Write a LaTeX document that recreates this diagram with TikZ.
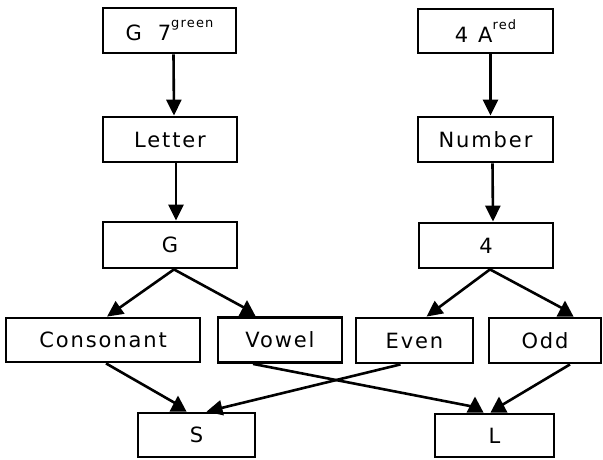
\documentclass[tikz,border=0pt]{standalone}
\usepackage{fontspec}
\setmainfont{DejaVu Sans}[LetterSpace=9]
\usetikzlibrary{arrows.meta,calc}
\begin{document}
\begin{tikzpicture}[x=1pt,y=-1pt,
  box/.style={draw, line width=2.8pt, inner sep=0pt, font=\fontsize{21}{24}\selectfont},
  conn/.style={line width=2.6pt},
  tip/.style={-{Triangle[length=16pt,width=15pt]}},
  uptri/.pic={\fill (-8.5,0) -- (8.5,0) -- (0,-16) -- cycle;}]
\useasboundingbox (0,0) rectangle (603,459);
% boxes
\node[box, minimum width=133pt, minimum height=45pt] (g7) at (169.5,30.5)
  {G\hspace{16pt}7\raisebox{.6em}{\fontsize{13}{14}\selectfont green}};
\node[box, minimum width=135pt, minimum height=44pt] (a4) at (485.5,31)
  {4\hspace{10pt}A\raisebox{.6em}{\fontsize{13}{14}\selectfont red}};
\node[box, minimum width=134pt, minimum height=45pt] (letter) at (170,139.5) {Letter};
\node[box, minimum width=135pt, minimum height=45pt] (number) at (485.5,139.5) {Number};
\node[box, minimum width=134pt, minimum height=46pt] (G) at (170,245) {G};
\node[box, minimum width=134pt, minimum height=45pt] (four) at (486,245.5) {4};
\node[box, minimum width=194pt, minimum height=44pt] (cons) at (103,340) {Consonant};
\node[box, minimum width=124pt, minimum height=45pt] (vowel) at (280,340) {Vowel};
\node[box, minimum width=117pt, minimum height=45pt] (even) at (414.5,340.5) {Even};
\node[box, minimum width=112pt, minimum height=45pt] (odd) at (545,340.5) {Odd};
\node[box, minimum width=117pt, minimum height=44pt] (S) at (196.5,435) {S};
\node[box, minimum width=119pt, minimum height=43pt] (L) at (494.5,435.5) {L};
% coordinates of the upright arrow heads
\coordinate (vt) at ([xshift=-33pt]vowel.north);
\coordinate (ot) at ([xshift=20pt]odd.north);
\coordinate (st) at ([xshift=-18.5pt]S.north);
\coordinate (lt1) at ([xshift=-19.5pt]L.north);
\coordinate (lt2) at ([xshift=4.5pt]L.north);
% vertical connectors
\draw[conn,tip] ([xshift=4pt]g7.south) -- ([xshift=4pt]letter.north);
\draw[conn,tip] ([xshift=6pt]letter.south) -- ([xshift=6pt]G.north);
\draw[conn,tip] ([xshift=5pt]a4.south) -- ([xshift=5pt]number.north);
\draw[conn,tip] ([xshift=7pt]number.south) -- ([xshift=7pt]four.north);
% diagonal connectors
\draw[conn,tip] ([xshift=4pt]G.south) -- ([xshift=4pt]cons.north);
\draw[conn] ([xshift=4pt]G.south) -- ($(vt)+(-2,-8)$);
\pic at (vt) {uptri};
\draw[conn,tip] ([xshift=4pt]four.south) -- ([xshift=12pt]even.north);
\draw[conn] ([xshift=4pt]four.south) -- ($(ot)+(-2,-8)$);
\pic at (ot) {uptri};
\draw[conn] ([xshift=3pt]cons.south) -- ($(st)+(-2,-8)$);
\pic at (st) {uptri};
\draw[conn] ([xshift=-27pt]vowel.south) -- ($(lt1)+(-2,-6)$);
\pic at (lt1) {uptri};
\draw[conn] ([xshift=25pt]odd.south) -- ($(lt2)+(2,-7)$);
\pic at (lt2) {uptri};
\draw[conn,tip] ([xshift=-14pt]even.south) -- ([xshift=10pt]S.north);
\end{tikzpicture}
\end{document}
